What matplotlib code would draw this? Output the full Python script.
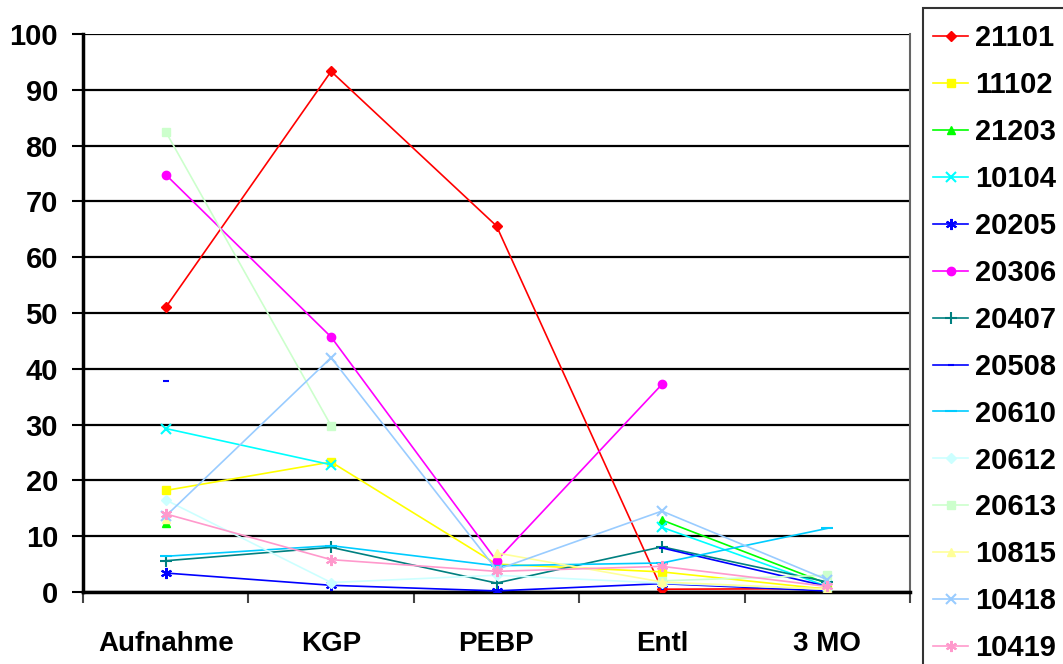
import numpy as np
import matplotlib
matplotlib.use("Agg")
import matplotlib.pyplot as plt
from matplotlib.patches import Rectangle

plt.rcParams['font.family'] = ['Liberation Sans', 'DejaVu Sans']
plt.rcParams['font.weight'] = 'bold'

nan = np.nan
categories = ["Aufnahme", "KGP", "PEBP", "Entl", "3 MO"]

# Werte je Patient (Lücken = nan)
s21101 = [51.0, 93.3, 65.6, 0.5, 0.6]
s11102 = [18.2, 23.3, 5.0, 3.6, 0.5]
s21203 = [12.3, nan, nan, 12.9, 1.5]
s10104 = [29.3, 22.8, nan, 11.6, 1.0]
s20205 = [3.4, 1.2, 0.2, 1.5, 0.2]
s20306 = [74.8, 45.7, 5.6, 37.2, nan]
s20407 = [5.6, 8.0, 1.6, 8.1, 1.8]
s20508 = [37.8, nan, nan, 7.9, 1.0]
s20610 = [6.4, 8.3, 4.7, 5.2, 11.4]
s20612 = [16.5, 1.7, 3.0, 1.6, 0.5]
s20613 = [82.5, 29.8, nan, 2.0, 3.0]
s10815 = [13.0, nan, 7.0, 1.8, 0.5]
s10418 = [13.6, 42.0, 4.0, 14.5, 2.2]
s10419 = [14.0, 5.8, 3.7, 4.6, 1.0]

labels = ["21101", "11102", "21203", "10104", "20205", "20306", "20407",
          "20508", "20610", "20612", "20613", "10815", "10418", "10419"]
values = [s21101, s11102, s21203, s10104, s20205, s20306, s20407,
          s20508, s20610, s20612, s20613, s10815, s10418, s10419]

asterisk = (6, 2, 0)
styles = [
    ("#FF0000", "D", 5),
    ("#FFFF00", "s", 6),
    ("#00FF00", "^", 6),
    ("#00FFFF", "x", 7),
    ("#0000FF", asterisk, 8),
    ("#FF00FF", "o", 6),
    ("#008080", "+", 8),
    ("#0000FF", "_", 5),
    ("#00CCFF", "_", 8),
    ("#CCFFFF", "D", 5),
    ("#CCFFCC", "s", 6),
    ("#FFFF99", "^", 6),
    ("#99CCFF", "x", 7),
    ("#FF99CC", asterisk, 8),
]

W, H = 1063, 664
fig = plt.figure(figsize=(W/100, H/100), dpi=100)
ax = fig.add_axes([83/W, 1-592/H, (910-83)/W, (592-34)/H])

x = np.arange(len(categories))
for lab, vals, (col, mk, ms) in zip(labels, values, styles):
    ax.plot(x, vals, color=col, lw=1.2, marker=mk, markersize=ms,
            markeredgewidth=1.5 if mk in ("x", "+", "_") or mk == asterisk else 1,
            label=lab, zorder=3)

ax.set_xlim(-0.5, 4.5)
ax.set_ylim(0, 100)
ax.set_yticks(np.arange(0, 101, 10))
ax.yaxis.grid(True, color="black", lw=1.6)
ax.set_axisbelow(True)

ax.set_xticks(x)
ax.set_xticklabels(categories, fontsize=20, fontweight='bold')
ax.set_xticks(np.arange(-0.5, 5, 1), minor=True)
ax.tick_params(axis='x', which='major', length=0, pad=28)
ax.tick_params(axis='x', which='minor', length=8, width=1.5, color='#444444', direction='out')
ax.tick_params(axis='y', labelsize=21, length=8, width=1.5, direction='out', pad=10)
for t in ax.get_yticklabels():
    t.set_fontweight('bold')

ax.spines['top'].set_visible(False)
ax.spines['left'].set_linewidth(2.5)
ax.spines['bottom'].set_linewidth(2.5)
ax.spines['right'].set_color('#666666')
ax.spines['right'].set_linewidth(1.5)

# Legendenrahmen (läuft unten aus dem Bild)
fig.patches.append(Rectangle((923/W, -20/H), 200/W, (H-8+20)/H,
                             transform=fig.transFigure, fill=False,
                             edgecolor='#333333', lw=1.5))

leg = fig.legend(loc='upper left', bbox_to_anchor=(933/W, 1-24.5/H),
                 frameon=False, prop={'size': 21, 'weight': 'bold'},
                 handlelength=1.2, handletextpad=0.24, labelspacing=0.648,
                 borderpad=0, borderaxespad=0)

fig.savefig("out.png", dpi=100)
